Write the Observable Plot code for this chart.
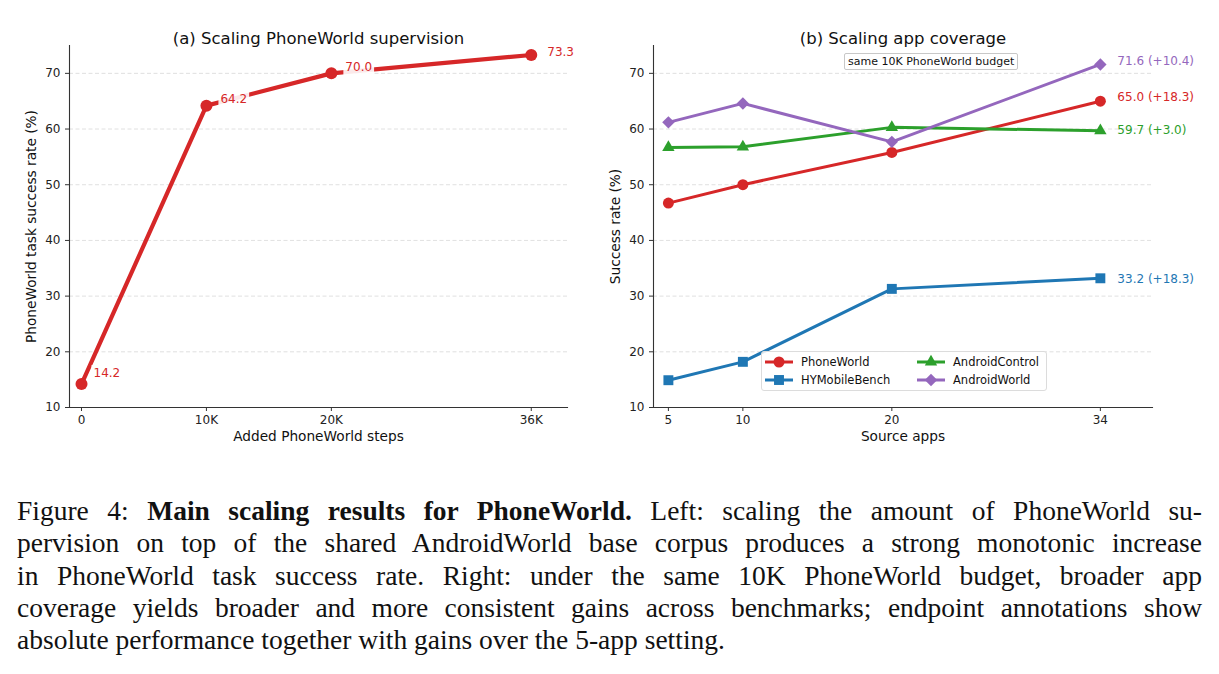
<!DOCTYPE html>
<html><head><meta charset="utf-8">
<script src="https://cdn.jsdelivr.net/npm/d3@7"></script>
<script src="https://cdn.jsdelivr.net/npm/@observablehq/plot@0.6"></script>
<style>
body{margin:0;background:#fff;width:1219px;height:674px;position:relative;overflow:hidden;font-family:"DejaVu Sans",sans-serif;}
#left{position:absolute;left:0;top:0;}
#right{position:absolute;left:600px;top:0;}
#budget{position:absolute;left:844px;top:53px;font-size:11px;color:#111;border:1px solid #c8c8c8;border-radius:2px;padding:0 3px;line-height:15px;background:#fff;}
#legend{position:absolute;left:761px;top:351px;width:284px;height:38px;border:1px solid #dcdcdc;border-radius:3px;background:rgba(255,255,255,0.85);font-size:11.5px;color:#111;}
#legend .item{position:absolute;display:flex;align-items:center;height:16px;}
#legend svg{margin-right:8px;overflow:visible}
#caption{position:absolute;left:17px;top:495px;width:1185px;font-family:"Liberation Serif",serif;font-size:27.5px;line-height:32.3px;color:#111;}
#caption .ln{text-align:justify;text-align-last:justify;}
#caption .last{text-align-last:left;}
</style></head><body>
<div id="left"></div>
<div id="right"></div>
<div id="budget">same 10K PhoneWorld budget</div>
<div id="legend"></div>
<div id="caption">
<div class="ln">Figure 4: <b>Main scaling results for PhoneWorld.</b> Left: scaling the amount of PhoneWorld su-</div>
<div class="ln">pervision on top of the shared AndroidWorld base corpus produces a strong monotonic increase</div>
<div class="ln">in PhoneWorld task success rate. Right: under the same 10K PhoneWorld budget, broader app</div>
<div class="ln">coverage yields broader and more consistent gains across benchmarks; endpoint annotations show</div>
<div class="ln last">absolute performance together with gains over the 5-app setting.</div>
</div>
<script>
// ---------- data ----------
const addedStepsK = [0, 10, 20, 36];
const addedStepsLabels = ["0", "10K", "20K", "36K"];
const phoneWorldSupervision = [14.2, 64.2, 70.0, 73.3];

const sourceApps = [5, 10, 20, 34];
const seriesNames = ["PhoneWorld", "HYMobileBench", "AndroidControl", "AndroidWorld"];
const phoneWorldRate = [46.7, 50.0, 55.8, 65.0];
const hyMobileBenchRate = [14.9, 18.2, 31.3, 33.2];
const androidControlRate = [56.7, 56.8, 60.3, 59.7];
const androidWorldRate = [61.2, 64.6, 57.7, 71.6];
const endpointLabels = ["65.0 (+18.3)", "33.2 (+18.3)", "59.7 (+3.0)", "71.6 (+10.4)"];

const yTicks = [10, 20, 30, 40, 50, 60, 70];
const gridTicks = [20, 30, 40, 50, 60, 70];

// ---------- styles ----------
const colors = ["#d62728", "#1f77b4", "#2ca02c", "#9467bd"];
const symbols = ["circle", "square", "triangle", "diamond2"];
const symbolR = [5.5, 5.6, 4.6, 5.6];
const endDy = [-4, 1, -1, -3];
const leftLabelOffsets = [[12, -11], [14, -6], [14, -6], [16, -3]];

const axisColor = "#333";
const gridStyle = {stroke: "#d8d8d8", strokeDasharray: "4,2.5", strokeWidth: 0.8, strokeOpacity: 1};
const baseStyle = {fontFamily: "DejaVu Sans", fontSize: "12px", color: "#222", background: "white", overflow: "visible"};
const titleSize = 16.5, labelSize = 13.7;

// ---------- left chart ----------
const leftRows = addedStepsK.map((k, i) => ({k, v: phoneWorldSupervision[i], label: phoneWorldSupervision[i].toFixed(1)}));

const left = Plot.plot({
  width: 600, height: 460,
  marginLeft: 69, marginRight: 33, marginTop: 45, marginBottom: 53,
  style: baseStyle,
  x: {domain: [-0.96, 38.9]},
  y: {domain: [10, 75]},
  marks: [
    Plot.gridY(gridTicks, gridStyle),
    Plot.frame({anchor: "left", stroke: axisColor, strokeWidth: 1.1}),
    Plot.frame({anchor: "bottom", stroke: axisColor, strokeWidth: 1.1}),
    Plot.axisY(yTicks, {tickSize: 4, tickPadding: 5, stroke: axisColor, label: null}),
    Plot.axisX(addedStepsK, {tickSize: 4, tickPadding: 4, stroke: axisColor, label: null,
      tickFormat: d => addedStepsLabels[addedStepsK.indexOf(d)]}),
    Plot.line(leftRows, {x: "k", y: "v", stroke: colors[0], strokeWidth: 4.2}),
    Plot.dot(leftRows, {x: "k", y: "v", fill: colors[0], r: 6}),
    ...leftRows.map((row, i) => Plot.text([row], {x: "k", y: "v", text: "label", fill: colors[0],
      textAnchor: "start", dx: leftLabelOffsets[i][0], dy: leftLabelOffsets[i][1], fontSize: 12,
      className: "boxed-label"})),
    Plot.text(["(a) Scaling PhoneWorld supervision"], {text: d => d, frameAnchor: "top", dy: -13, fontSize: titleSize, fill: "#111"}),
    Plot.text(["Added PhoneWorld steps"], {text: d => d, frameAnchor: "bottom", dy: 33, fontSize: labelSize, fill: "#111"}),
    Plot.text(["PhoneWorld task success rate (%)"], {text: d => d, frameAnchor: "left", textAnchor: "middle", dx: -38, rotate: -90, fontSize: labelSize, fill: "#111"})
  ]
});
document.getElementById("left").append(left);

// white boxes behind the left annotations (like matplotlib bbox)
left.querySelectorAll(".boxed-label text").forEach(t => {
  const b = t.getBBox();
  const r = document.createElementNS("http://www.w3.org/2000/svg", "rect");
  r.setAttribute("x", b.x - 2); r.setAttribute("y", b.y - 1);
  r.setAttribute("width", b.width + 4); r.setAttribute("height", b.height + 2);
  r.setAttribute("fill", "white"); r.setAttribute("fill-opacity", "0.9");
  if (t.getAttribute("transform")) r.setAttribute("transform", t.getAttribute("transform"));
  t.parentNode.insertBefore(r, t);
});

// ---------- right chart ----------
const seriesValues = [phoneWorldRate, hyMobileBenchRate, androidControlRate, androidWorldRate];
const rightRows = seriesNames.flatMap((name, s) => sourceApps.map((a, i) => ({series: name, s, apps: a, v: seriesValues[s][i]})));

const seriesMarks = seriesNames.flatMap((name, s) => {
  const rows = rightRows.filter(d => d.s === s);
  const last = rows[rows.length - 1];
  return [
    Plot.line(rows, {x: "apps", y: "v", stroke: colors[s], strokeWidth: 3}),
    Plot.dot(rows, {x: "apps", y: "v", fill: colors[s], symbol: symbols[s], r: symbolR[s]}),
    Plot.text([last], {x: "apps", y: "v", text: () => endpointLabels[s], fill: colors[s], textAnchor: "start",
      dx: 17, dy: endDy[s], fontSize: 12})
  ];
});

const right = Plot.plot({
  width: 619, height: 460,
  marginLeft: 53, marginRight: 67, marginTop: 45, marginBottom: 53,
  style: baseStyle,
  x: {domain: [4, 37.5]},
  y: {domain: [10, 75]},
  symbol: {type: "identity"},
  marks: [
    Plot.gridY(gridTicks, gridStyle),
    Plot.frame({anchor: "left", stroke: axisColor, strokeWidth: 1.1}),
    Plot.frame({anchor: "bottom", stroke: axisColor, strokeWidth: 1.1}),
    Plot.axisY(yTicks, {tickSize: 4, tickPadding: 5, stroke: axisColor, label: null}),
    Plot.axisX(sourceApps, {tickSize: 4, tickPadding: 4, stroke: axisColor, label: null, tickFormat: d => String(d)}),
    ...seriesMarks,
    Plot.text(["(b) Scaling app coverage"], {text: d => d, frameAnchor: "top", dy: -13, fontSize: titleSize, fill: "#111"}),
    Plot.text(["Source apps"], {text: d => d, frameAnchor: "bottom", dy: 33, fontSize: labelSize, fill: "#111"}),
    Plot.text(["Success rate (%)"], {text: d => d, frameAnchor: "left", textAnchor: "middle", dx: -38, rotate: -90, fontSize: labelSize, fill: "#111"})
  ]
});
document.getElementById("right").append(right);

// ---------- legend ----------
const d3Symbols = {circle: d3.symbolCircle, square: d3.symbolSquare, triangle: d3.symbolTriangle, diamond2: d3.symbolDiamond2};
const legendPos = [[3, 2], [3, 20], [155, 2], [155, 20]];
const legend = document.getElementById("legend");
seriesNames.forEach((name, s) => {
  const item = document.createElement("div");
  item.className = "item";
  item.style.left = legendPos[s][0] + "px";
  item.style.top = legendPos[s][1] + "px";
  const path = d3.symbol(d3Symbols[symbols[s]], Math.PI * symbolR[s] * symbolR[s])();
  item.innerHTML = `<svg width="28" height="12"><line x1="0" x2="28" y1="6" y2="6" stroke="${colors[s]}" stroke-width="3"/>` +
    `<path transform="translate(14,6)" d="${path}" fill="${colors[s]}"/></svg><span>${name}</span>`;
  legend.append(item);
});
</script>
</body></html>
